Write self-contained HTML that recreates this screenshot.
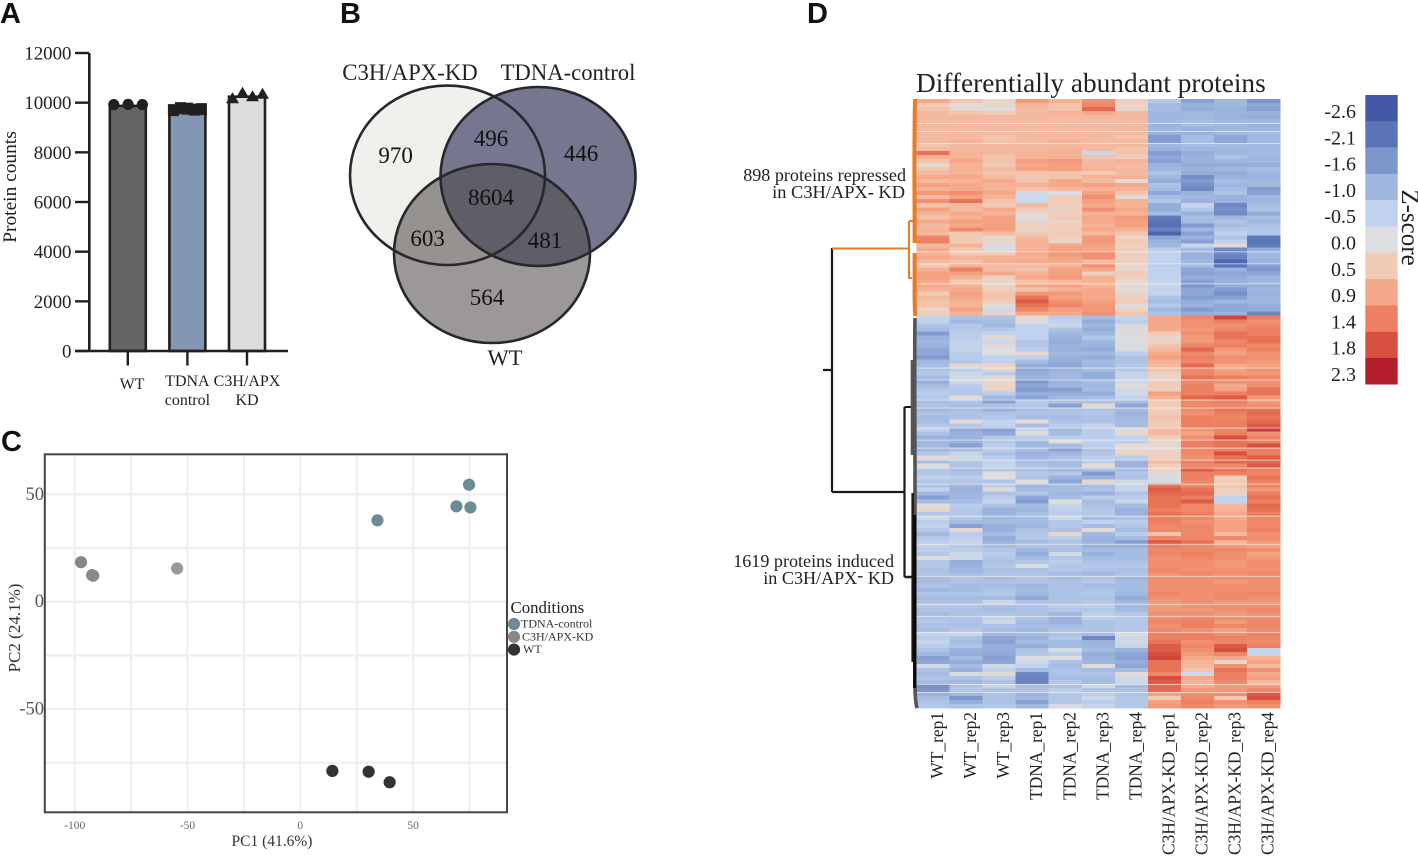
<!DOCTYPE html>
<html lang="en">
<head>
<meta charset="utf-8">
<title>Proteomics figure</title>
<style>
html,body{margin:0;padding:0;background:#fff;width:1418px;height:856px;overflow:hidden}
svg{display:block;font-family:"Liberation Serif",serif;fill:#222}
.panel{font-family:"Liberation Sans",sans-serif;font-weight:700;font-size:29px;fill:#111}
</style>
</head>
<body>
<svg id="fig" width="1418" height="856" viewBox="0 0 1418 856" xmlns="http://www.w3.org/2000/svg">
  <text class="panel" x="0" y="23">A</text>
  <text class="panel" x="340" y="23">B</text>
  <text class="panel" x="1" y="451">C</text>
  <text class="panel" x="807" y="23">D</text>

  <g id="panelA">
    <text transform="translate(16,187) rotate(-90)" text-anchor="middle" font-size="19.4">Protein counts</text>
  </g>

  <g id="panelB">
    <ellipse cx="447.5" cy="175.3" rx="97.5" ry="89.7" fill="#f0f1ed"/>
    <ellipse cx="538" cy="176.5" rx="97.5" ry="89.5" fill="#75778f"/>
    <ellipse cx="492" cy="253.5" rx="98" ry="89.5" fill="rgba(79,74,72,.57)"/>
    <ellipse cx="447.5" cy="175.3" rx="97.5" ry="89.7" fill="none" stroke="#26282c" stroke-width="2.6"/>
    <ellipse cx="538" cy="176.5" rx="97.5" ry="89.5" fill="none" stroke="#26282c" stroke-width="2.6"/>
    <ellipse cx="492" cy="253.5" rx="98" ry="89.5" fill="none" stroke="#26282c" stroke-width="2.6"/>
    <text x="410" y="80" text-anchor="middle" font-size="22.8">C3H/APX-KD</text>
    <text x="568" y="80" text-anchor="middle" font-size="22.7">TDNA-control</text>
    <text x="505" y="365" text-anchor="middle" font-size="22.5">WT</text>
  </g>

  <g id="panelC">
    <text x="272" y="846" text-anchor="middle" font-size="15.5" fill="#333">PC1 (41.6%)</text>
    <text transform="translate(20,628) rotate(-90)" text-anchor="middle" font-size="17" fill="#333">PC2 (24.1%)</text>
    <text x="510.5" y="613" font-size="16.8">Conditions</text>
  </g>

  <g id="panelD">
    <text x="916" y="92" font-size="27.3">Differentially abundant proteins</text>
    <text x="906" y="181" text-anchor="end" font-size="18.1">898 proteins repressed</text>
    <text x="905" y="198" text-anchor="end" font-size="18.4">in C3H/APX<tspan font-weight="700">-</tspan> KD</text>
    <text x="894" y="567" text-anchor="end" font-size="18.1">1619 proteins induced</text>
    <text x="894" y="584" text-anchor="end" font-size="18.1">in C3H/APX<tspan dy="-3">-</tspan><tspan dy="3"> KD</tspan></text>
    <text transform="translate(1402,227.5) rotate(90)" text-anchor="middle" font-size="25">Z-score</text>
    <g id="heatCells"></g>
    <g fill="none">
      <path d="M823 370H832M832 248V492M832 492H904.5M904.5 407V577" stroke="#1a1a1a" stroke-width="2.2"/>
      <path d="M832 248.5H909M909 221V278H912M909 221H913" stroke="#e97b24" stroke-width="2"/>
      <path d="M915 99C914.3 130 914.3 170 914.6 220V243M914.6 253V285C914.5 300 914.5 310 915.4 316" stroke="#e97b24" stroke-width="4"/>
      <path d="M904.5 407H911" stroke="#1a1a1a" stroke-width="2"/>
      <path d="M915 318C914.5 340 914.8 420 915 470V640C914.8 680 914.5 700 917 708" stroke="#555" stroke-width="3.6"/>
      <path d="M912.2 360V455" stroke="#555" stroke-width="3"/>
      <path d="M904.5 577H912M912.6 493V662" stroke="#1a1a1a" stroke-width="2.4"/>
      <path d="M914.6 515V688" stroke="#0a0a0a" stroke-width="3"/>
    </g>
  </g>
</svg>
<script>
// ---------- Panel A data ----------
const barCategories = ['WT', 'TDNA', 'C3H/APX'];
const barCategories2 = ['', 'control', 'KD'];
const barMeans = [9870, 9670, 10240];
const barFills = ['#636466', '#8397b2', '#dcddde'];
const barPointsWT = [9920, 9930, 9920];
const barPointsTDNA = [9700, 9780, 9760, 9720, 9740];
const barPointsKD = [10180, 10400, 10260, 10360];
const barTicks = [0, 2000, 4000, 6000, 8000, 10000, 12000];

// ---------- Panel B data ----------
const vennCounts = ['970', '496', '446', '8604', '603', '481', '564'];
const vennRegions = ['kd-only', 'kd-tdna', 'tdna-only', 'all', 'kd-wt', 'tdna-wt', 'wt-only'];

// ---------- Panel C data ----------
const pcaTDNAx = [74.8, 69.2, 75.4, 34.2];
const pcaTDNAy = [54.5, 44.4, 43.9, 37.9];
const pcaKDx = [-97.2, -92.3, -91.8, -54.6];
const pcaKDy = [18.4, 12.4, 12.1, 15.5];
const pcaWTx = [14.2, 30.3, 39.6];
const pcaWTy = [-78.8, -79.2, -84.1];
const pcaXMajor = [-100, -50, 0, 50];
const pcaXMinor = [-75, -25, 25, 75];
const pcaYMajor = [50, 0, -50];
const pcaYMinor = [25, -25, -75];
const pcaLegend = ['TDNA-control', 'C3H/APX-KD', 'WT'];

// ---------- Panel D data ----------
const heatColumns = ['WT_rep1','WT_rep2','WT_rep3','TDNA_rep1','TDNA_rep2','TDNA_rep3','TDNA_rep4','C3H/APX-KD_rep1','C3H/APX-KD_rep2','C3H/APX-KD_rep3','C3H/APX-KD_rep4'];
const zLevels = [-2.6,-2.1,-1.6,-1.0,-0.5,0.0,0.5,0.9,1.4,1.8,2.3];
const zColors = ['#4558a6','#5b74b8','#7d96cb','#a0b8e0','#c0d2ed','#dddedf','#f2cbb7','#f6a98a','#ed8060','#d7503f','#b31e2d'];
const repressedGaps = [6, 8, 11, 38, 41, 46];
const inducedGaps = [13, 16, 21, 23, 28, 31, 33, 36, 38, 42, 50, 57, 65, 72, 75, 79, 92, 94];
const repressedRows = [
[.9,.6,.3,1.1,.8,1.2,.4,-.7,-1.4,-1,-1.6],
[.5,.1,.2,.8,.6,1.3,.3,-.9,-1.1,-1,-1.3],
[.6,.2,.1,.7,.6,1.6,.3,-.9,-1.2,-1.1,-1.4],
[.7,.6,.5,.7,.8,.9,.7,-1,-1,-1.1,-1.1],
[.7,.7,.7,.7,.7,.7,.7,-1,-1,-1.1,-1.2],
[.7,.7,.7,.7,.7,.7,.7,-1,-.9,-1,-1],
[.7,.7,.7,.7,.7,.7,.7,-1.1,-.9,-1,-1.1],
[.7,.7,.7,.7,.7,.7,.7,-1,-1.1,-1,-1],
[.7,.7,.7,.7,.7,.7,.7,-1.1,-1.1,-1,-.9],
[.7,.7,.6,.7,.7,.7,.6,-1.5,-.9,-1.3,-1],
[.7,.8,.6,.7,.8,.7,.7,-1.5,-.9,-1.3,-1],
[.6,.7,.7,.7,.7,.7,.7,-1,-.9,-.9,-1],
[.7,.7,.7,.7,.8,.7,.6,-1.1,-1,-1,-1],
[1.5,.8,.7,.8,.8,-.3,.6,-1.5,-1.2,-1,-.9],
[.8,.8,.6,.8,.8,.6,.5,-1.3,-1.1,-.8,-1],
[.6,.9,.6,1,1.1,.7,.8,-1.4,-1.1,-1,-1],
[.2,.8,.5,.9,1,.7,.7,-1.1,-1.2,-1.2,-1.2],
[.6,.8,.7,1,1,.8,.7,-1,-1.1,-1,-.9],
[.7,.8,.6,.6,.6,.5,.7,-.8,-1.2,-1.2,-1],
[.9,.9,.7,.5,.6,.8,.8,-1,-1.7,-1.1,-1.1],
[.7,.8,.9,.6,.9,.7,.1,-1.2,-1.5,-.9,-1],
[1,.9,.8,.8,.9,1,.9,-.8,-1.7,-1,-1],
[.8,.9,.8,.6,.7,.8,.8,-.9,-1.8,-.9,-1.5],
[1.1,1.2,.9,-.2,-.1,1,.6,-1.3,-1.1,-.8,-1.4],
[.7,1,.8,-.3,.5,1.2,.1,-.9,-1,-1.1,-1],
[1.2,1.5,.6,-.3,.5,1,.8,-.7,-1.1,-1.1,-1],
[.6,.7,.5,.7,.4,.9,.8,-1.2,-.4,-1.8,-.9],
[1,.7,.9,.5,.4,1.2,.9,-1.2,-.7,-1.7,-.8],
[.8,.9,.8,.2,.4,.8,.8,-.9,-1.1,-1.8,-1.2],
[.6,.8,1,.1,.5,.9,1.1,-2,-.9,-1,-.9],
[.9,1,1,.2,.3,.9,1,-2.1,-.9,-.8,-1],
[.7,.9,1,.4,.5,.8,1,-2.2,-1.5,-.9,-.8],
[.8,1.3,1,.3,.4,.9,.8,-1.9,-1,-.7,-.7],
[.7,.5,.7,.5,.5,.7,.6,-2.4,-1.4,-.5,-.7],
[1.3,.5,.2,.7,.4,1.1,.3,-1.3,-1.1,-.8,-2],
[1.4,.5,.2,.8,.3,1.1,.5,-1.1,-1.4,-.5,-2.1],
[.7,.8,.1,.8,.9,1,.4,-1,-.4,.1,-2],
[.9,.5,-.1,.8,1,.9,.4,-.6,-.9,-1.8,-1.2],
[.8,.5,.5,.9,1.1,1.2,.4,-.5,-1.1,-1.8,-1],
[.9,.8,.8,.8,1,1.2,.4,-.5,-1.1,-1.9,-1],
[.7,.6,.8,.9,.9,.7,.4,-.5,-1,-2.3,-1.1],
[.5,.8,.7,.7,.8,1.2,.3,-.6,-.9,-2.1,-1.4],
[.8,1.4,.7,.6,1,.9,.2,-.5,-1.3,-1.1,-1.6],
[1,1,.9,.8,1,.4,.5,-.5,-1.4,-1.3,-1.3],
[1,.8,.4,.9,1.1,.8,.4,-.5,-1.2,-1.2,-1],
[.9,.5,.3,.6,.7,.8,.1,-.4,-1.4,-1.1,-1],
[.9,.8,.3,.9,1,.8,.2,-.4,-1.6,-1.2,-1.2],
[.8,.9,.4,.6,.8,.9,.1,-.5,-1.3,-1.5,-1],
[.5,1,.6,1.1,1.1,.9,.3,-.4,-1.3,-1.7,-1.1],
[.7,.9,.6,1.5,1,.9,.4,-.8,-1.5,-1.4,-1],
[.6,.8,.5,1.7,1.2,1,.5,-.9,-1.2,-1,-1],
[.6,.8,.1,1.5,1.3,1.1,.1,-.7,-1.1,-1.3,-1.2],
[.3,1,-.2,1.3,1,1.1,.3,-1,-1.5,-1.3,-1.2],
[.4,.8,.3,.9,.9,1.2,.6,-.8,-1.2,-1.1,-1.8]
];
const inducedRows = [
[-.4,-.8,-.8,.1,-.6,-.9,-.4,.9,1.3,1.9,1.4],
[-.5,-1,-.9,.1,-.5,-1.2,-.6,.9,1.2,1.4,1.2],
[-.8,-.7,-1,-.5,-.3,-1,-.2,.9,1.2,1.2,1.3],
[-.9,-.7,-.7,-.5,-.8,-1.2,.2,.9,1.1,1.3,1.4],
[-1.5,-.6,-.4,-.5,-1,-1,-.1,.5,1.2,1.5,1.4],
[-1.1,-.6,.1,-.5,-1.1,-.7,-.1,.3,1.1,1.5,1.5],
[-1,-.5,-.3,-.7,-1.2,-1,.1,.3,1.1,1.3,1.5],
[-1.1,-.4,.1,-.7,-1.1,-1.1,-.1,.6,1.3,1.4,1.3],
[-1.3,-.4,0,-.6,-1.1,-1.2,-.1,.7,1.6,1.1,1.4],
[-1.3,-.6,0,.2,-1,-1,-.6,.9,1.3,1,1.2],
[-1.5,-.6,-.5,-.5,-1.1,-1.2,-.8,1,1.4,1.2,1.2],
[-1,-.7,-.5,-.9,-1.2,-.9,-.8,.8,1.3,1.2,1.1],
[-.9,.2,.3,-1.2,-1.3,-1,-.7,.7,1.6,.9,1],
[-.8,-.6,.2,-1.3,-1.1,-.9,-.7,.6,1.3,1,1.2],
[-.7,-.3,-.6,-1.2,-1,-1.2,-.4,.4,1.3,1.1,1.1],
[-.9,-.2,.2,-1.1,-1,-1.2,-.4,.2,1.5,1.4,1.3],
[-1.2,-.2,.2,-1.6,-1.1,-.9,-.3,.4,1.3,1.2,1.2],
[-.9,-.6,.3,-1.3,-1,-1,.1,.5,1.4,.9,1.2],
[-.7,-.7,.3,-1.5,-1.4,-.9,-.2,.4,1.4,1,1.5],
[-.6,-.7,-.6,-1.2,-1.2,-1.2,-.3,1,1.4,1.4,1.5],
[-.7,.1,-1,-1.3,-1,-.9,-.4,.8,1.6,1.7,1.1],
[-.9,-.8,-1.4,-.7,-.8,-.8,-.9,.5,1.3,1.4,1.1],
[-.8,-.9,-.8,-.7,-1.4,.2,-1.3,.5,1.3,1.3,1.2],
[-1,-.9,-1.1,-.9,-.8,-.8,-.9,.5,1.3,1.5,1.5],
[-.8,-.8,-.8,-.8,-.8,-.7,-1.1,.5,1.2,1.4,1.6],
[-.9,-.8,-.7,-.9,-.9,-.8,-1,.6,1.4,1.3,1.5],
[-.9,.1,-.5,.1,-.8,-.8,-.9,.5,1.4,1.4,1.6],
[-.7,-.7,-.5,-.9,-.6,-.4,-.9,.5,1.4,1.4,1.7],
[-.5,-1.3,-1.4,-.4,-1,-.6,.1,.7,1.1,1.3,2],
[-.8,-1.1,-1.3,0,-.9,-.6,.2,.7,1,1.4,1.2],
[-1.1,-1.1,-.7,-.6,-.6,-.6,-.5,.4,1.2,1.8,1.4],
[-1,-1.1,-.7,-1,.1,-.5,-.6,.3,1.4,1.5,1.4],
[-1,-1.4,-.6,-1,-.9,-.6,.1,.2,1.4,1.5,1.8],
[-1,-.9,-.6,-.9,-1.4,-.8,.2,.2,1.3,1.4,1.4],
[-.7,-.4,-.8,-1.1,-1,-.7,.3,.4,1.3,1.8,1.4],
[.1,-.2,-.6,-1,-.8,-.6,-.6,.4,1.2,1.5,1.7],
[-.9,-.7,-.5,-.9,-.9,-.6,-1.1,.7,1.4,1.6,1.6],
[0,-.8,-.4,-.8,-.9,.1,-1.1,.5,1.3,1.3,1.7],
[-.7,-.9,-.7,-.8,-1,-.8,-.9,.3,1.7,1.5,1.4],
[-.7,-.8,.1,-.7,-.7,-1.5,-.7,.2,1.4,1.4,1.3],
[-.5,-.6,0,-.8,-1.1,-1.1,-.8,-.1,1.4,.4,1.5],
[-.7,-.7,-.7,0,-1.3,.2,-.3,-.1,1.3,.5,1.4],
[-.8,-1,-.6,-1,-.9,-.9,-.4,1.5,1.3,.6,1.4],
[-.5,-1.1,.1,-.9,-.9,-.8,-.4,1.7,1.5,.4,1.1],
[-1,-1,-.8,-.7,-1,-1.1,-.8,1.6,1.6,.3,1.4],
[-1.4,-1,-.6,-1.3,-.9,-.6,-.6,1.5,1.4,-.4,1.5],
[-.9,-.9,-.4,-1.5,0,-.9,-.3,1.5,1.7,-.4,1.4],
[.1,-.6,-.8,-.9,-.4,-.8,-.9,1.5,1.3,.7,1.6],
[.2,-.7,-1.1,-1,-.5,-.7,-1.1,1.4,1.3,.8,1.5],
[-.7,-.7,-1.1,-.9,-.6,-.7,-1.1,1.5,1.4,.9,1.4],
[-.3,-.7,-1,-.9,-.3,-.9,-.8,1.4,1.3,.9,1.3],
[-.6,-.9,-.9,-.9,-.7,-.5,-.6,1.4,1.2,1,1.3],
[-.5,-1.4,-1.1,-1,-.7,-.9,-.7,1.3,1.3,1,1.3],
[-.7,.2,-1.1,-.8,-.8,.1,-.9,1.3,1.3,1,1.4],
[-1,-.6,-.9,-.7,.2,-1,-.6,.6,1.3,.7,1.2],
[-.7,-.5,-1.2,-.7,-.6,-1.1,-.9,1.3,1.3,1.3,1.2],
[-.6,-.4,-1.1,-.9,-.8,-1.1,-1.4,1.7,1.5,.8,1.1],
[-.5,-.7,-.9,-.8,-.8,-1.1,-1.1,1.4,1.3,1.1,1],
[-.6,-.6,-.7,-1,-.8,-.9,-.9,1.3,1.3,1.3,1.2],
[-.7,-.3,-.6,-1.2,-.2,-1.1,-.9,1.3,1.4,1.2,1],
[0,-.3,-.7,-.9,-.7,-.9,-.9,1.2,1.3,1.2,1.1],
[-.7,-1.2,-.8,-.7,-.6,-.8,-.8,1.2,1.2,1.1,1.2],
[-.7,-1.1,-.7,-.1,-.7,-.7,-.7,1.2,1.2,1.1,1.2],
[-.8,-1,-.8,-.8,-.7,-.8,-.8,1.3,1.2,1.2,1.2],
[-.8,-.9,-.8,-.8,-.9,-1,-.8,1.2,1.3,1.2,1.3],
[-.9,-.8,-.9,-.8,-.9,-.8,-1,1.2,1.2,1.2,1.2],
[-.9,-.8,-.8,-.8,-.8,-.7,-.9,1.2,1.2,1.1,1.2],
[-.8,-.9,-.9,-1,-.8,-.9,-.9,1.2,1.2,1.2,1.2],
[-1,-.9,-.8,-.9,-.8,-.8,-.9,1.2,1.2,1.2,1.2],
[-.8,-.8,-.7,-1,-.8,-.7,-1,1.3,1.2,1.3,1.3],
[-.9,-.9,-.9,-1.3,-.8,-.8,-1.2,1.2,1.2,1.3,1.2],
[-.8,-.8,-.3,-.8,-.8,-.7,-1,1.1,1.2,1.1,1.1],
[-.7,-.7,-.8,-.8,-.6,-.6,-1,1.1,1.2,1.2,1.2],
[-.8,-.8,-.9,-.8,-.7,-.7,-.9,1.1,1.1,1.2,1.3],
[-.9,-.8,-.8,-.8,-1,-.6,-.7,1.2,1.2,1.1,1.2],
[-.8,-.8,-.4,-.8,-1.1,-.6,-.7,1.2,1.3,1.2,1.2],
[-.7,-.8,-.3,-.9,-1.1,-.8,-.7,1.3,1.4,1.1,1.3],
[-.8,-.8,-.8,-.9,-.9,-.8,-.7,1.2,1.4,1.3,1.3],
[-.9,-.7,-.9,-1,-.8,-.8,-.7,1.3,1.2,1,1.3],
[-.4,-.3,-1,-.9,-.8,-.9,-.1,1.4,1.4,1.2,1.4],
[-.6,-.8,-1.3,-1.1,-.7,-1.8,-.3,1.4,1.4,1.4,1.3],
[-.4,-.9,-1.4,-.9,-.9,-1.1,-.2,1.5,1.2,1.3,1.3],
[-.6,-.8,-1.2,-1.2,-.9,-1,-.4,1.7,1.3,1.7,1.4],
[-.8,-1.1,-1.2,-.8,-.1,-.9,-1.1,1.7,1.2,1.8,-.4],
[-1,-1.2,-1.3,-.7,-.6,-1.2,-1.3,1.8,1.1,1.3,-.4],
[-1.4,-.9,-1.4,-.1,0,-1.1,-1.4,1.9,.9,.9,.8],
[-1.3,-1.2,-1.3,-.2,-.8,-1,-1.2,1.5,.8,.3,1],
[-.2,-.9,-.2,-.5,-.9,.1,-1.3,1.5,.7,1.2,.7],
[-.8,-1.1,-.5,-.9,-.8,-.9,-.9,1.5,.6,1.5,1.2],
[-.9,-.1,.1,-1.8,-.8,-.8,.1,1.3,-.3,1.4,.9],
[-.8,-.8,-.6,-1.9,-.9,-.9,-.2,1.8,.9,1.4,1],
[-.9,-1,-.8,-1.9,-.7,-.9,-.3,1.7,.8,1.3,.7],
[-1.7,-.8,-.4,-.9,-.8,-.2,-.9,1.6,.9,1.1,1.1],
[-1.6,-.7,-.8,-.8,-.6,-.8,-.8,1.6,1.1,1.1,1.3],
[-1.1,-1,-.8,-1.1,-.7,-.6,-.8,1,1.2,1.2,1.7],
[-.9,-1.6,-.8,-1,-.7,-.3,-.7,.5,1.3,.5,1.8],
[-.8,-1.2,-.8,-1.4,-.7,-.6,-.7,1,1.4,1.2,1.4],
[-.7,-.8,-.7,-1,-.1,-.4,-.7,1.1,1.3,1.1,1.2]
];

// ---------- helpers ----------
const NS = 'http://www.w3.org/2000/svg';
function mk(parent, tag, attrs, txt) {
  const el = document.createElementNS(NS, tag);
  for (const k in attrs) el.setAttribute(k, attrs[k]);
  if (txt !== undefined) el.textContent = txt;
  parent.appendChild(el);
  return el;
}
let el;

// ---------- Panel A ----------
const gA = document.getElementById('panelA');
const aY = v => 351 - v * 298 / 12000;
const aX = i => 127.8 + i * 59.6;
const aW = 36;
barCategories.forEach((c, i) => {
  el = mk(gA, 'rect', {x: aX(i) - aW / 2, y: aY(barMeans[i]), width: aW, height: aY(0) - aY(barMeans[i]), fill: barFills[i], stroke: '#231f20', 'stroke-width': 2.6});
  
  
  el = mk(gA, 'line', {x1: aX(i), x2: aX(i), y1: 351, y2: 365.5, stroke: '#231f20', 'stroke-width': 2.4});
  
  
});
barPointsWT.forEach((v, i) => {
  el = mk(gA, 'circle', {cx: aX(0) - 14 + i * 14.3, cy: aY(v), r: 5.6, fill: '#231f20'});
  
  
});
barPointsTDNA.forEach((v, i) => {
  el = mk(gA, 'rect', {x: aX(1) - 19.5 + i * 7, y: aY(v) - 6, width: 11, height: 12, fill: '#231f20'});
  
  
});
barPointsKD.forEach((v, i) => {
  const cx = aX(2) - 14.5 + i * 10, cy = aY(v);
  el = mk(gA, 'path', {d: `M${cx} ${cy - 6}L${cx + 6.5} ${cy + 5}H${cx - 6.5}Z`, fill: '#231f20'});
  
  
});
el = mk(gA, 'path', {d: 'M89.3 53V351M75 351H288', fill: 'none', stroke: '#231f20', 'stroke-width': 2.6});


barTicks.forEach(t => {
  el = mk(gA, 'line', {x1: 75, x2: 89, y1: aY(t), y2: aY(t), stroke: '#231f20', 'stroke-width': 2.4});
  
  
  el = mk(gA, 'text', {x: 71.5, y: aY(t) + 6.5, 'text-anchor': 'end', 'font-size': 18.9}, String(t));
  
  
});
barCategories.forEach((c, i) => {
  el = mk(gA, 'text', {x: i === 0 ? 132 : aX(i), y: i === 0 ? 389 : 386, 'text-anchor': 'middle', 'font-size': 16}, c);
  
  
  if (barCategories2[i]) {
    el = mk(gA, 'text', {x: aX(i), y: 405, 'text-anchor': 'middle', 'font-size': 16}, barCategories2[i]);
    
    
  }
});

// ---------- Panel B labels ----------
const gB = document.getElementById('panelB');
const vennAnchors = {'kd-only': [395.6, 163], 'kd-tdna': [491, 146], 'tdna-only': [581, 161], 'all': [491, 205], 'kd-wt': [427.6, 246], 'tdna-wt': [545, 248], 'wt-only': [487, 305]};
vennCounts.forEach((c, i) => {
  const a = vennAnchors[vennRegions[i]];
  el = mk(gB, 'text', {x: a[0], y: a[1], 'text-anchor': 'middle', 'font-size': 23, fill: '#111'}, c);
  
  
});

// ---------- Panel C ----------
const gC = document.getElementById('panelC');
const cX = v => 300.3 + v * 2.256;
const cY = v => 601.7 - v * 2.147;
pcaXMinor.concat(pcaXMajor).forEach(v => {
  el = mk(gC, 'line', {x1: cX(v), x2: cX(v), y1: 454, y2: 812, stroke: '#efefef', 'stroke-width': 2.2});
  
  
});
pcaYMinor.concat(pcaYMajor).forEach(v => {
  el = mk(gC, 'line', {x1: 45, x2: 507, y1: cY(v), y2: cY(v), stroke: '#efefef', 'stroke-width': 2.2});
  
  
});
el = mk(gC, 'rect', {x: 44.8, y: 454.3, width: 462.2, height: 358, fill: 'none', stroke: '#444', 'stroke-width': 2});


pcaXMajor.forEach(v => {
  el = mk(gC, 'text', {x: cX(v), y: 829, 'text-anchor': 'middle', 'font-size': 11.5, fill: '#666'}, String(v));
  
  
});
pcaYMajor.forEach(v => {
  el = mk(gC, 'text', {x: 44, y: cY(v) + 5.5, 'text-anchor': 'end', 'font-size': 18.5, fill: '#555'}, String(v));
  
  
});
function pcaSeries(xs, ys, fills, name) {
  xs.forEach((x, i) => {
    el = mk(gC, 'circle', {cx: cX(x), cy: cY(ys[i]), r: 6.1, fill: fills[i] || fills[0]});
    
    
  });
}
pcaSeries(pcaTDNAx, pcaTDNAy, ['#6d8b93'], 'pca-point-tdna');
pcaSeries(pcaKDx, pcaKDy, ['#878787', '#8a8a8a', '#8a8a8a', '#999999'], 'pca-point-kd');
pcaSeries(pcaWTx, pcaWTy, ['#333333'], 'pca-point-wt');
const legendFill = ['#6d8b93', '#878787', '#333333'];
pcaLegend.forEach((t, i) => {
  const y = 624 + i * 12.8;
  el = mk(gC, 'circle', {cx: 514, cy: y, r: 6.1, fill: legendFill[i]});
  
  
  el = mk(gC, 'text', {x: i === 0 ? 521 : i === 1 ? 522 : 523, y: y + 3.5, 'font-size': i === 0 ? 12 : 12, fill: '#333'}, t);
  
  
});

// ---------- Panel D ----------
const gD = document.getElementById('panelD');
const gCells = document.getElementById('heatCells');
const hLeft = 916.6, hRight = 1280, colW = (hRight - hLeft) / heatColumns.length;
const hTop = 99, hSplit = 315.5, hBottom = 708;
function heatColor(z) {
  const c = Math.max(zLevels[0], Math.min(zLevels[zLevels.length - 1], z));
  let i = 0;
  while (i < zLevels.length - 2 && c > zLevels[i + 1]) i++;
  const t = (c - zLevels[i]) / (zLevels[i + 1] - zLevels[i]);
  const a = zColors[i], b = zColors[i + 1];
  const ch = (s, p) => parseInt(s.substr(p, 2), 16);
  const m = p => Math.round(ch(a, p) + (ch(b, p) - ch(a, p)) * t);
  return `rgb(${m(1)},${m(3)},${m(5)})`;
}
function drawHeat(rows, gaps, y0, y1) {
  const rowH = (y1 - y0) / rows.length;
  rows.forEach((row, r) => {
    row.forEach((z, c) => {
      el = mk(gCells, 'rect', {x: hLeft + c * colW, y: y0 + r * rowH, width: colW + .3, height: rowH + .3, fill: heatColor(z), 'shape-rendering': 'crispEdges'});
      
      
    });
  });
  gaps.forEach(r => {
    el = mk(gCells, 'rect', {x: hLeft, y: y0 + r * rowH, width: hRight - hLeft, height: .9, fill: '#fbf7f4', opacity: .7});
    
    
  });
}
drawHeat(repressedRows, repressedGaps, hTop, hSplit);
drawHeat(inducedRows, inducedGaps, hSplit, hBottom);
heatColumns.forEach((c, i) => {
  const cx = hLeft + (i + .5) * colW + 10;
  el = mk(gD, 'text', {transform: `translate(${cx},712) rotate(-90)`, 'text-anchor': 'end', 'font-size': 17.4}, c);
  
  
});
const cbTop = 95, cbH = (384.3 - 95) / zLevels.length;
zLevels.forEach((z, i) => {
  el = mk(gD, 'rect', {x: 1365.3, y: cbTop + i * cbH, width: 32.4, height: cbH + .2, fill: zColors[i]});
  
  
  el = mk(gD, 'text', {x: 1356, y: cbTop + i * cbH + 23, 'text-anchor': 'end', 'font-size': 20}, z.toFixed(1));
  
  
});
</script>
</body>
</html>
